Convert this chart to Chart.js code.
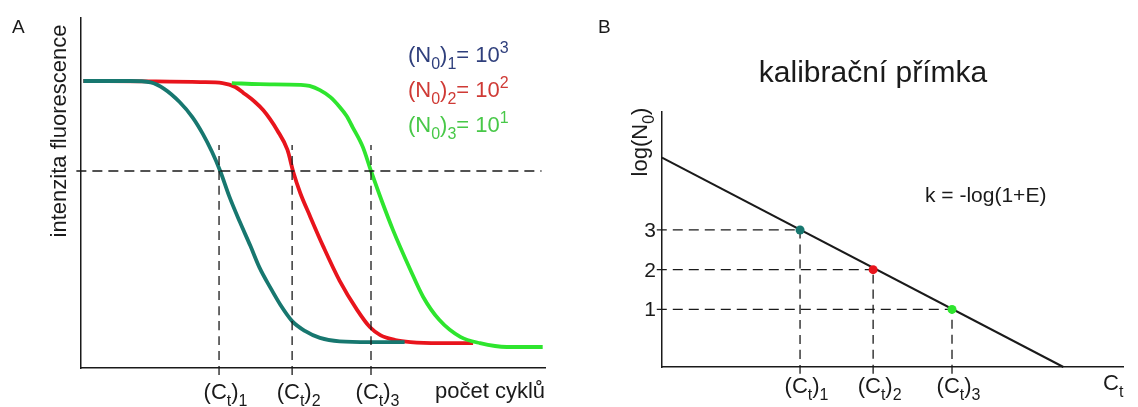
<!DOCTYPE html>
<html>
<head>
<meta charset="utf-8">
<script src="https://cdn.jsdelivr.net/npm/chart.js@4.4.1/dist/chart.umd.min.js"></script>
<style>
  html, body { margin: 0; padding: 0; background: #fff; }
  #wrap { position: relative; width: 1138px; height: 407px; overflow: hidden; }
  canvas { position: absolute; top: 0; }
  #qpcr { left: 0; }
  #calib { left: 569px; }
</style>
</head>
<body>
<div id="wrap">
  <canvas id="qpcr" width="569" height="407"></canvas>
  <canvas id="calib" width="569" height="407"></canvas>
</div>
<script>
// amplification curves: cycle number vs. fluorescence (arbitrary units)
const cyclesN1 = [0.2, 4.2, 6.0, 7.2, 8.5, 9.6, 10.5, 11.3, 12.0, 12.8, 13.7, 14.6, 15.4, 16.3, 17.2, 18.2, 19.3, 20.6, 22.3, 24.9, 27.9];
const fluorN1 = [82.0, 82.0, 81.6, 79.7, 76.0, 71.7, 66.9, 61.7, 56.3, 48.9, 41.7, 34.9, 28.6, 23.1, 18.0, 13.4, 10.6, 8.6, 7.6, 7.4, 7.4];

const cyclesN2 = [0.2, 5.9, 10.3, 12.2, 13.3, 14.0, 15.0, 15.7, 16.3, 16.9, 17.8, 18.3, 18.9, 19.7, 20.9, 22.3, 23.8, 24.9, 25.8, 27.1, 28.4, 30.9, 33.8];
const fluorN2 = [82.0, 81.9, 81.7, 81.4, 80.3, 78.6, 76.0, 73.7, 71.1, 68.0, 62.3, 56.0, 50.0, 43.7, 34.6, 24.9, 16.6, 11.7, 9.4, 8.0, 7.4, 7.1, 7.1];

const cyclesN3 = [13.0, 15.4, 18.9, 19.7, 20.6, 21.5, 22.3, 22.9, 23.4, 24.3, 25.0, 25.9, 26.9, 28.4, 29.5, 30.9, 32.7, 34.4, 36.7, 39.8];
const fluorN3 = [81.4, 81.1, 80.9, 80.6, 79.4, 77.4, 74.6, 72.0, 68.9, 63.1, 56.3, 48.0, 39.4, 28.0, 20.3, 13.7, 8.9, 7.1, 6.0, 6.0];

const threshold = 56.3;
const ctCycles = [11.9, 18.2, 25.0];
const ctIndex = ['1', '2', '3'];
const logN0 = [3, 2, 1];
const n0Exponents = ['3', '2', '1'];

// calibration line end points (cycle, log N0)
const calibCycles = [0, 34.6];
const calibLog = [4.82, -0.45];

const sampleColors = ['#17776f', '#e8141c', '#2ee52e'];
const legendColors = ['#2f3f7c', '#cf3a35', '#48c848'];
const INK = '#1a1a1a';
const FONT = '"Liberation Sans", Arial, sans-serif';

const xy = (xs, ys) => xs.map((x, i) => ({ x, y: ys[i] }));

// draws text made of normal / subscript / superscript pieces
function drawRich(ctx, x, y, parts, size, align) {
  const small = Math.round(size * 0.72);
  const fontFor = (k) => `${k ? small : size}px ${FONT}`;
  let total = 0;
  parts.forEach(([t, k]) => { ctx.font = fontFor(k); total += ctx.measureText(t).width; });
  let cx = align === 'center' ? x - total / 2 : align === 'right' ? x - total : x;
  ctx.textAlign = 'left';
  ctx.textBaseline = 'alphabetic';
  parts.forEach(([t, k]) => {
    ctx.font = fontFor(k);
    const dy = k === 'sub' ? size * 0.33 : k === 'sup' ? -size * 0.42 : 0;
    ctx.fillText(t, cx, y + dy);
    cx += ctx.measureText(t).width;
  });
}

function drawRotated(ctx, x, y, parts, size) {
  ctx.save();
  ctx.translate(x, y);
  ctx.rotate(-Math.PI / 2);
  drawRich(ctx, 0, 0, parts, size, 'center');
  ctx.restore();
}

const ctParts = (i) => [['(C'], ['t', 'sub'], [')'], [i, 'sub']];

function lineSet(data, color, width, dash) {
  return {
    data, showLine: true, pointRadius: 0, fill: false, clip: false,
    borderColor: color, borderWidth: width, borderDash: dash || [],
    cubicInterpolationMode: 'monotone'
  };
}

function plainAxis(min, max) {
  return {
    type: 'linear', min, max,
    grid: { display: false, drawTicks: false },
    ticks: { display: false },
    border: { display: true, color: INK, width: 1.5 }
  };
}

const baseOptions = {
  responsive: false,
  animation: false,
  events: [],
  plugins: { legend: { display: false }, tooltip: { enabled: false } }
};

// ---- A: amplification curves ----
const qpcrText = {
  id: 'qpcrText',
  afterDraw(chart) {
    const { ctx, scales: { x } } = chart;
    ctx.save();
    ctx.fillStyle = INK;
    drawRich(ctx, 12, 33, [['A']], 19, 'left');
    drawRotated(ctx, 66, 131, [['intenzita fluorescence']], 22);
    ctCycles.forEach((c, i) => {
      drawRich(ctx, x.getPixelForValue(c) + 6.5, 399, ctParts(ctIndex[i]), 22, 'center');
    });
    drawRich(ctx, 435, 398, [['počet cyklů']], 22, 'left');
    n0Exponents.forEach((e, i) => {
      ctx.fillStyle = legendColors[i];
      drawRich(ctx, 408, 62 + 35 * i,
        [['(N'], ['0', 'sub'], [')'], [String(i + 1), 'sub'], ['= 10'], [e, 'sup']], 22, 'left');
    });
    ctx.restore();
  }
};

new Chart(document.getElementById('qpcr'), {
  type: 'scatter',
  data: {
    datasets: [
      lineSet([{ x: -0.4, y: threshold }, { x: 39.7, y: threshold }], INK, 1.5, [10, 6]),
      ...ctCycles.map(c => lineSet([{ x: c, y: -2 }, { x: c, y: 63.7 }], INK, 1.3, [9, 6])),
      lineSet(xy(cyclesN3, fluorN3), sampleColors[2], 3.8),
      lineSet(xy(cyclesN1, fluorN1), sampleColors[0], 3.8),
      lineSet(xy(cyclesN2, fluorN2), sampleColors[1], 3.8)
    ]
  },
  options: {
    ...baseOptions,
    layout: { padding: { left: 81, right: 24, top: 18, bottom: 39 } },
    scales: { x: plainAxis(0, 40), y: plainAxis(0, 100) }
  },
  plugins: [qpcrText]
});

// ---- B: calibration line ----
const calibText = {
  id: 'calibText',
  afterDraw(chart) {
    const { ctx, scales: { x, y } } = chart;
    ctx.save();
    ctx.fillStyle = INK;
    drawRich(ctx, 29, 33, [['B']], 19, 'left');
    drawRich(ctx, 304, 82, [['kalibrační přímka']], 30, 'center');
    drawRotated(ctx, 78, 142, [['log(N'], ['0', 'sub'], [')']], 22);
    logN0.forEach(v => drawRich(ctx, 87, y.getPixelForValue(v) + 7, [[String(v)]], 21, 'right'));
    drawRich(ctx, 356, 202, [['k = -log(1+E)']], 21, 'left');
    ctCycles.forEach((c, i) => {
      drawRich(ctx, x.getPixelForValue(c) + 6.5, 393, ctParts(ctIndex[i]), 22, 'center');
    });
    drawRich(ctx, 534, 390, [['C'], ['t', 'sub']], 22, 'left');
    ctx.restore();
  }
};

new Chart(document.getElementById('calib'), {
  type: 'scatter',
  data: {
    datasets: [
      {
        data: xy(ctCycles, logN0), showLine: false, clip: false,
        pointRadius: 4.5, pointBorderWidth: 0, pointBackgroundColor: sampleColors
      },
      lineSet(xy(calibCycles, calibLog), INK, 2),
      ...ctCycles.map((c, i) => lineSet([{ x: -0.45, y: logN0[i] }, { x: c, y: logN0[i] }], INK, 1.3, [10, 6])),
      ...ctCycles.map((c, i) => lineSet([{ x: c, y: -0.62 }, { x: c, y: logN0[i] }], INK, 1.3, [9, 6]))
    ]
  },
  options: {
    ...baseOptions,
    layout: { padding: { left: 93, right: 15, top: 112, bottom: 40 } },
    scales: { x: plainAxis(0, 39.74), y: plainAxis(-0.45, 5.97) }
  },
  plugins: [calibText]
});
</script>
</body>
</html>
